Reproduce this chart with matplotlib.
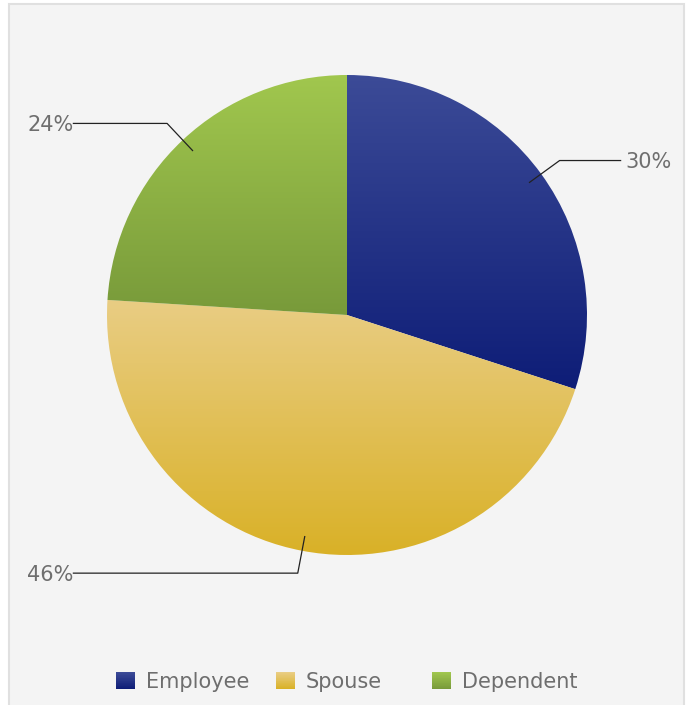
import numpy as np
import matplotlib
matplotlib.use("Agg")
import matplotlib.pyplot as plt
from matplotlib.patches import Rectangle
from matplotlib.legend_handler import HandlerBase
from matplotlib.colors import to_rgb

categories = ['Employee', 'Spouse', 'Dependent']
shares = [30, 46, 24]
pct_labels = ['30%', '46%', '24%']
top_colors = ['#3c4b97', '#e9cd84', '#a1c74e']
bottom_colors = ['#0e1d77', '#d9b127', '#789a3a']

text_color = '#6e6e6e'
font_size = 15


def gradient(top, bottom, n=256):
    t = np.linspace(0, 1, n)[:, None]
    return (1 - t) * np.array(to_rgb(top)) + t * np.array(to_rgb(bottom))


# legend box filled with a vertical gradient made of thin strips
class GradientHandler(HandlerBase):
    def __init__(self, top, bottom):
        super().__init__()
        self.top = top
        self.bottom = bottom

    def create_artists(self, legend, orig_handle, xdescent, ydescent,
                       width, height, fontsize, trans):
        n = 24
        cols = gradient(self.top, self.bottom, n)
        artists = []
        for i in range(n):
            y = -ydescent + height * (1 - (i + 1) / n)
            artists.append(Rectangle((-xdescent, y), width, height / n + 0.2,
                                     facecolor=cols[i], edgecolor='none',
                                     transform=trans))
        return artists


fig = plt.figure(figsize=(6.89, 7.05), dpi=100)
fig.patch.set_facecolor('white')
fig.patches.append(Rectangle((9 / 689, -0.05), 675 / 689, 1.05 - 4 / 705,
                             transform=fig.transFigure, facecolor='#f4f4f4',
                             edgecolor='#e0e0e0', linewidth=1.5, zorder=-5))

ax = fig.add_axes([107 / 689, 150 / 705, 480 / 689, 480 / 705])
ax.set_facecolor('none')
wedges, _ = ax.pie(shares, startangle=90, counterclock=False, radius=1,
                   wedgeprops=dict(facecolor='none', edgecolor='none'))
ax.set_aspect('equal')
ax.axis('off')

for w, top, bot in zip(wedges, top_colors, bottom_colors):
    bb = w.get_path().get_extents(w.get_patch_transform())
    img = ax.imshow(gradient(top, bot)[:, None, :], aspect='auto',
                    extent=(bb.x0, bb.x1, bb.y0, bb.y1), origin='upper',
                    interpolation='bilinear', zorder=1)
    img.set_clip_path(w)

ax.set_xlim(-1, 1)
ax.set_ylim(-1, 1)

# outside labels with leader lines
for w, lab in zip(wedges, pct_labels):
    mid = np.deg2rad((w.theta1 + w.theta2) / 2)
    x_in, y_in = 0.94 * np.cos(mid), 0.94 * np.sin(mid)
    x_b, y_b = 1.095 * np.cos(mid), 1.095 * np.sin(mid)
    side = 1 if np.cos(mid) > 0 else -1
    x_end = 1.14 * side
    ax.plot([x_in, x_b, x_end], [y_in, y_b, y_b], color='#222222', lw=0.9,
            clip_on=False, zorder=3)
    ax.text(x_end + 0.02 * side if side > 0 else x_end, y_b - 0.008, lab,
            ha='left' if side > 0 else 'right', va='center',
            fontsize=font_size, color=text_color, clip_on=False)

# legend entries sit in fixed-width slots along the bottom
slot_x = [116 / 689, 276 / 689, 432 / 689]
for w, name, t, b, x in zip(wedges, categories, top_colors, bottom_colors, slot_x):
    leg = fig.legend([w], [name], handler_map={w: GradientHandler(t, b)},
                     loc='center left', bbox_to_anchor=(x, 23 / 705),
                     frameon=False, fontsize=font_size, handlelength=0.93,
                     handleheight=0.9, handletextpad=0.5, borderpad=0,
                     borderaxespad=0)
    for txt in leg.get_texts():
        txt.set_color(text_color)

fig.savefig('out.png', dpi=100, facecolor=fig.get_facecolor())
